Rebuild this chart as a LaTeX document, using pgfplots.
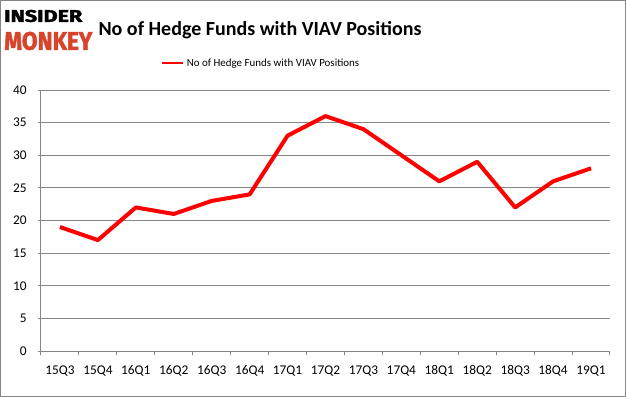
\documentclass[border=0pt]{standalone}
\usepackage{pgfplots}
\pgfplotsset{compat=1.18}
\usepackage{fontspec}
\setmainfont{Carlito}
\newfontfamily\logofont[BoldFeatures={FakeBold=2}]{Fira Sans}
\definecolor{logored}{HTML}{D8432B}
\definecolor{gridgray}{HTML}{868686}
\begin{document}
\begin{tikzpicture}
\useasboundingbox (0,0) rectangle (469.5pt,297.75pt);
\draw[gridgray, line width=0.75pt] (0.375pt,0.375pt) rectangle (469.125pt,297.375pt);
\node[anchor=west, inner sep=0pt] at (3pt,285.75pt) {\resizebox{58.5pt}{9pt}{\logofont\bfseries INSIDER}};
\node[anchor=west, inner sep=0pt, text=logored] at (3pt,267pt) {\resizebox{66pt}{13.5pt}{\logofont\bfseries MONKEY}};
\node[inner sep=0pt] at (195pt,275.25pt) {\fontsize{15}{18}\selectfont\bfseries No of Hedge Funds with VIAV Positions};
\begin{axis}[
 at={(30.75pt,34.5pt)}, anchor=south west, scale only axis,
 width=426.75pt, height=195.75pt,
 xmin=-0.5, xmax=14.5, ymin=0, ymax=40,
 ytick={0,5,...,40},
 xtick={0,...,14},
 xticklabels={15Q3,15Q4,16Q1,16Q2,16Q3,16Q4,17Q1,17Q2,17Q3,17Q4,18Q1,18Q2,18Q3,18Q4,19Q1},
 minor xtick={-0.5,0.5,...,14.5},
 major x tick style={draw=none},
 ymajorgrids, grid style={gridgray, line width=0.75pt},
 axis x line*=bottom, axis y line*=left,
 axis line style={gridgray, line width=0.75pt, -},
 tick style={gridgray, line width=0.75pt},
 tick align=outside,
 minor tick length=3pt, major tick length=2.25pt,
 tick label style={font=\fontsize{10}{11}\selectfont, text=black},
 xticklabel style={yshift=-5pt},
 yticklabel style={xshift=-5pt},
 /pgf/number format/assume math mode=true,
 legend style={at={(0.3875,1.102)}, anchor=center, draw=none, fill=none, font=\fontsize{8.2}{9}\selectfont},
 legend image code/.code={\draw[#1, line width=1.5pt] (0pt,0pt) -- (15.75pt,0pt);},
]
\addplot[red, line width=3pt, line join=round] coordinates {
(0,19) (1,17) (2,22) (3,21) (4,23) (5,24) (6,33) (7,36) (8,34) (9,30) (10,26) (11,29) (12,22) (13,26) (14,28)};
\addlegendentry{No of Hedge Funds with VIAV Positions}
\end{axis}
\end{tikzpicture}
\end{document}
